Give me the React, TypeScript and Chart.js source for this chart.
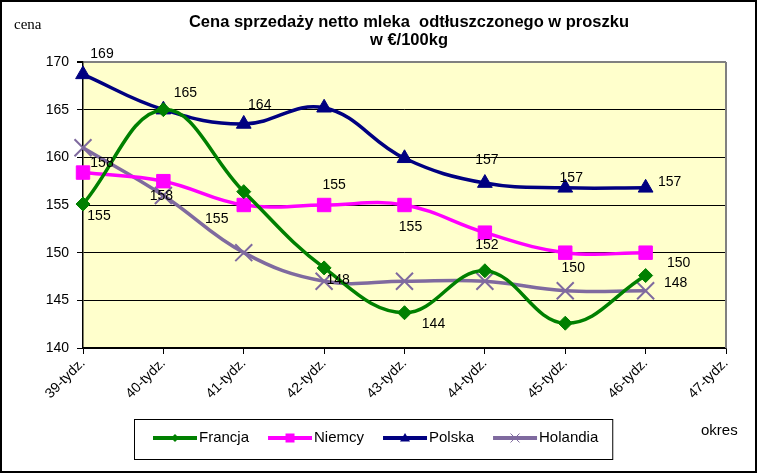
import React, { useEffect, useRef } from "react";
import { Chart, registerables } from "chart.js";

Chart.register(...registerables);

const categories = ["39-tydz.", "40-tydz.", "41-tydz.", "42-tydz.", "43-tydz.", "44-tydz.", "45-tydz.", "46-tydz.", "47-tydz."];
const francja = [155.1, 165.0, 156.4, 148.4, 143.7, 148.1, 142.6, 147.6, null];
const niemcy = [158.4, 157.5, 155.0, 155.0, 155.0, 152.1, 150.0, 150.0, null];
const polska = [168.7, 165.0, 163.5, 165.2, 159.9, 157.3, 156.8, 156.8, null];
const holandia = [161.0, 156.0, 150.0, 147.0, 147.0, 147.0, 146.0, 146.0, null];
const seriesNames = ["Francja", "Niemcy", "Polska", "Holandia"];
const titleLines = ["Cena sprzedaży netto mleka  odtłuszczonego w proszku", "w €/100kg"];
const yAxisName = "cena";
const xAxisName = "okres";
const yMin = 140;
const yMax = 170;
const yStep = 5;

// which points carry a value label: [series index, point index]
const labelledPoints: [number, number][] = [
  [2, 0], [2, 1], [2, 2], [2, 5], [2, 6], [2, 7],
  [1, 0], [1, 1], [1, 2], [1, 3], [1, 4], [1, 5], [1, 6], [1, 7],
  [0, 0], [0, 3], [0, 4], [0, 7],
];
// label offsets in px (style), same order as labelledPoints
const labelOffsets: [number, number][] = [
  [19, -20], [22, -17], [16, -19], [2, -23], [6, -10], [24, -6],
  [19, -9], [-2, 15], [-27, 14], [10, -20], [6, 22], [2, 12], [8, 15], [33, 10],
  [16, 12], [14, 12], [29, 11], [30, 8],
];

const COLORS = ["#008000", "#FF00FF", "#000080", "#7F6A9F"];
const STYLES = ["rectRot", "rect", "triangle", "crossRot"];
const RADII = [7, 9.5, 8.5, 12];
const FONT = "Arial, 'Liberation Sans', sans-serif";

function drawLegendMarker(ctx: CanvasRenderingContext2D, style: string, x: number, y: number, color: string) {
  ctx.save();
  ctx.fillStyle = color;
  ctx.strokeStyle = color;
  ctx.beginPath();
  if (style === "rectRot") {
    const r = 4;
    ctx.moveTo(x - r, y); ctx.lineTo(x, y - r); ctx.lineTo(x + r, y); ctx.lineTo(x, y + r); ctx.closePath(); ctx.fill();
  } else if (style === "rect") {
    ctx.rect(x - 4.5, y - 4.5, 9, 9); ctx.fill();
  } else if (style === "triangle") {
    ctx.moveTo(x, y - 5); ctx.lineTo(x + 5, y + 3.5); ctx.lineTo(x - 5, y + 3.5); ctx.closePath(); ctx.fill();
  } else {
    ctx.lineWidth = 1;
    ctx.moveTo(x - 4.5, y - 4.5); ctx.lineTo(x + 4.5, y + 4.5);
    ctx.moveTo(x + 4.5, y - 4.5); ctx.lineTo(x - 4.5, y + 4.5);
    ctx.stroke();
  }
  ctx.restore();
}

const decorPlugin = {
  id: "decor",
  beforeDraw(chart: any) {
    const { ctx, chartArea } = chart;
    ctx.save();
    ctx.fillStyle = "#FFFFFF";
    ctx.fillRect(0, 0, chart.width, chart.height);
    ctx.fillStyle = "#FFFFCC";
    ctx.fillRect(chartArea.left, chartArea.top, chartArea.right - chartArea.left, chartArea.bottom - chartArea.top);
    ctx.restore();
  },
  beforeDatasetsDraw(chart: any) {
    const { ctx, chartArea } = chart;
    ctx.save();
    ctx.strokeStyle = "#808080";
    ctx.lineWidth = 2;
    ctx.beginPath();
    ctx.moveTo(chartArea.right, chartArea.top);
    ctx.lineTo(chartArea.right, chartArea.bottom);
    ctx.stroke();
    ctx.restore();
  },
  afterDraw(chart: any) {
    const { ctx } = chart;
    ctx.save();
    // value labels
    ctx.fillStyle = "#000";
    ctx.font = `14px ${FONT}`;
    ctx.textAlign = "center";
    ctx.textBaseline = "middle";
    labelledPoints.forEach(([s, i], k) => {
      const el = chart.getDatasetMeta(s).data[i];
      const v = chart.data.datasets[s].data[i];
      if (!el || v == null) return;
      const [dx, dy] = labelOffsets[k];
      ctx.fillText(String(Math.round(v)), el.x + dx, el.y + dy);
    });
    // title
    ctx.font = `bold 16.5px ${FONT}`;
    ctx.fillText(titleLines[0], 409, 22);
    ctx.fillText(titleLines[1], 409, 40);
    // axis names
    ctx.font = `15px 'Liberation Serif', 'Times New Roman', serif`;
    ctx.textAlign = "left";
    ctx.fillText(yAxisName, 14, 25);
    ctx.font = `15px ${FONT}`;
    ctx.fillText(xAxisName, 701, 431);
    // legend
    const lineLen = 44, textGap = 2, itemGap = 19, padL = 19, padR = 14;
    const bx = 134, by = 419, bh = 40;
    ctx.font = `15px ${FONT}`;
    let x = bx + padL;
    const cy = by + bh / 2 - 1;
    chart.data.datasets.forEach((ds: any, k: number) => {
      ctx.strokeStyle = ds.borderColor;
      ctx.lineWidth = 4;
      ctx.beginPath();
      ctx.moveTo(x, cy);
      ctx.lineTo(x + lineLen, cy);
      ctx.stroke();
      drawLegendMarker(ctx, ds.pointStyle, x + lineLen / 2, cy, ds.borderColor);
      x += lineLen + textGap;
      ctx.fillStyle = "#000";
      ctx.fillText(ds.label, x, cy);
      x += ctx.measureText(ds.label).width;
      if (k < chart.data.datasets.length - 1) x += itemGap;
    });
    const bw = x + padR - bx;
    ctx.strokeStyle = "#000";
    ctx.lineWidth = 1;
    ctx.strokeRect(bx + 0.5, by + 0.5, bw, bh);
    // outer border
    ctx.lineWidth = 2;
    ctx.strokeRect(1, 1, chart.width - 2, chart.height - 2);
    ctx.restore();
  },
};

export default function App() {
  const ref = useRef<HTMLCanvasElement | null>(null);
  useEffect(() => {
    document.body.style.margin = "0";
    const seriesData = [francja, niemcy, polska, holandia];
    const chart = new Chart(ref.current as HTMLCanvasElement, {
      type: "line",
      data: {
        labels: categories,
        datasets: seriesData.map((d, k) => ({
          label: seriesNames[k],
          data: d,
          borderColor: COLORS[k],
          backgroundColor: COLORS[k],
          pointBackgroundColor: COLORS[k],
          pointBorderColor: COLORS[k],
          pointBorderWidth: k === 3 ? 2 : 1,
          pointStyle: STYLES[k],
          pointRadius: RADII[k],
          borderWidth: 3.5,
          tension: 0.4,
          fill: false,
        })),
      },
      plugins: [decorPlugin],
      options: {
        animation: false,
        responsive: false,
        devicePixelRatio: 1,
        layout: { padding: { top: 62, right: 31, left: 0, bottom: 0 } },
        plugins: {
          legend: { display: false },
          title: { display: false },
          tooltip: { enabled: false },
        },
        scales: {
          x: {
            offset: false,
            grid: { drawOnChartArea: false, drawTicks: true, tickLength: 6, color: "#000", lineWidth: 1 },
            border: { color: "#000", width: 1.5 },
            ticks: {
              color: "#000",
              font: { family: FONT, size: 14 },
              minRotation: 45,
              maxRotation: 45,
              padding: 1,
              autoSkip: false,
            },
            afterFit(scale: any) { scale.height = 125; },
          },
          y: {
            min: yMin,
            max: yMax,
            grid: {
              color: (c: any) => (c.tick && c.tick.value === yMax ? "#808080" : "#000"),
              lineWidth: (c: any) => (c.tick && c.tick.value === yMax ? 2 : 1),
              tickColor: "#000",
              tickLength: 6,
            },
            border: { color: "#000", width: 1.5 },
            ticks: {
              stepSize: yStep,
              color: "#000",
              font: { family: FONT, size: 14 },
              padding: 8,
            },
            afterFit(scale: any) { scale.width = 83; },
          },
        },
      },
    });
    return () => chart.destroy();
  }, []);
  return (
    <div style={{ position: "absolute", left: 0, top: 0, width: 757, height: 473 }}>
      <canvas ref={ref} width={757} height={473} style={{ width: 757, height: 473, display: "block" }} />
    </div>
  );
}
